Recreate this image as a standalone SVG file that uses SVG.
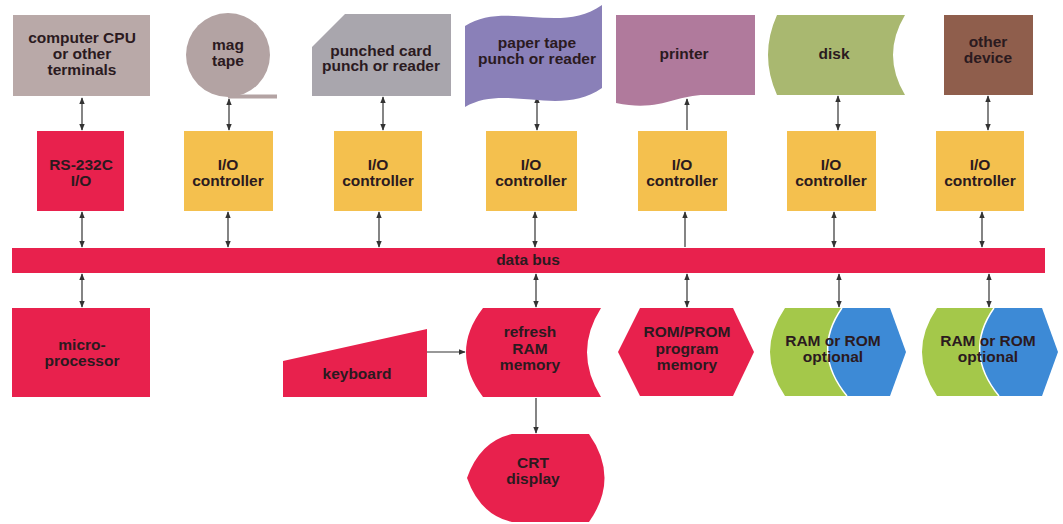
<svg xmlns="http://www.w3.org/2000/svg" width="1063" height="524" viewBox="0 0 1063 524">
<style>
text{font-family:"Liberation Sans",Arial,sans-serif;font-weight:bold;font-size:15.5px;fill:#2b1a1f;text-anchor:middle}
.red{fill:#e8214d}
.yel{fill:#f4c04e}
.con line{stroke:#333;stroke-width:1.2}
</style>
<defs>
<marker id="ah" viewBox="0 0 10 10" refX="9" refY="5" markerWidth="7" markerHeight="7" orient="auto-start-reverse" markerUnits="userSpaceOnUse">
<path d="M0,1 L10,5 L0,9 Z" fill="#333"/>
</marker>
</defs>
<rect width="1063" height="524" fill="#ffffff"/>

<g class="con">
<line x1="82" y1="98" x2="82" y2="130" marker-start="url(#ah)" marker-end="url(#ah)"/>
<line x1="82" y1="212" x2="82" y2="247" marker-start="url(#ah)" marker-end="url(#ah)"/>
<line x1="82" y1="274" x2="82" y2="307" marker-start="url(#ah)" marker-end="url(#ah)"/>
<line x1="229" y1="99" x2="229" y2="130" marker-start="url(#ah)" marker-end="url(#ah)"/>
<line x1="228" y1="212" x2="228" y2="247" marker-start="url(#ah)" marker-end="url(#ah)"/>
<line x1="383" y1="97" x2="383" y2="130" marker-start="url(#ah)" marker-end="url(#ah)"/>
<line x1="379" y1="212" x2="379" y2="247" marker-start="url(#ah)" marker-end="url(#ah)"/>
<line x1="537" y1="97" x2="537" y2="130" marker-start="url(#ah)" marker-end="url(#ah)"/>
<line x1="535" y1="212" x2="535" y2="247" marker-start="url(#ah)" marker-end="url(#ah)"/>
<line x1="536" y1="274" x2="536" y2="307" marker-start="url(#ah)" marker-end="url(#ah)"/>
<line x1="536" y1="398" x2="536" y2="433" marker-end="url(#ah)"/>
<line x1="427" y1="352" x2="465" y2="352" marker-end="url(#ah)"/>
<line x1="687" y1="130" x2="687" y2="99" marker-end="url(#ah)"/>
<line x1="685" y1="247" x2="685" y2="212" marker-end="url(#ah)"/>
<line x1="687" y1="274" x2="687" y2="307" marker-start="url(#ah)" marker-end="url(#ah)"/>
<line x1="838" y1="96" x2="838" y2="130" marker-start="url(#ah)" marker-end="url(#ah)"/>
<line x1="834" y1="212" x2="834" y2="247" marker-start="url(#ah)" marker-end="url(#ah)"/>
<line x1="839" y1="274" x2="839" y2="307" marker-start="url(#ah)" marker-end="url(#ah)"/>
<line x1="988" y1="96" x2="988" y2="130" marker-start="url(#ah)" marker-end="url(#ah)"/>
<line x1="982" y1="212" x2="982" y2="247" marker-start="url(#ah)" marker-end="url(#ah)"/>
<line x1="989" y1="274" x2="989" y2="307" marker-start="url(#ah)" marker-end="url(#ah)"/>
</g>

<g id="cpu">
<rect x="13" y="15" width="137" height="81" fill="#b9a9a8"/>
<text x="82" y="43">computer CPU</text>
<text x="82" y="59">or other</text>
<text x="82" y="75">terminals</text>
</g>
<g id="magtape">
<circle cx="228" cy="55" r="42" fill="#b3a3a3"/>
<rect x="228" y="94.5" width="49" height="4" fill="#b3a3a3"/>
<text x="228" y="50">mag</text>
<text x="228" y="66">tape</text>
</g>
<g id="punchcard">
<path d="M345,14 H451 V96 H312 V47 Z" fill="#a9a6ad"/>
<text x="381" y="56">punched card</text>
<text x="381" y="71">punch or reader</text>
</g>
<g id="papertape">
<path d="M465,26 C505,0 560,35 602,5 V88 C560,118 505,83 465,107 Z" fill="#8a80b8"/>
<text x="537" y="48">paper tape</text>
<text x="537" y="64">punch or reader</text>
</g>
<g id="printer">
<path d="M616,15 H755 V95 H705 C675,95 660,112 616,103 Z" fill="#b07a9c"/>
<text x="684" y="59">printer</text>
</g>
<g id="disk">
<path d="M777,15 H905 Q881,55 905,95 H777 Q759,55 777,15 Z" fill="#a9b870"/>
<text x="834" y="59">disk</text>
</g>
<g id="other">
<rect x="944" y="15" width="89" height="80" fill="#8f5e4c"/>
<text x="988" y="47">other</text>
<text x="988" y="63">device</text>
</g>

<g id="rs232">
<rect class="red" x="37" y="131" width="87" height="80"/>
<text x="81" y="170">RS-232C</text>
<text x="81" y="186">I/O</text>
</g>
<g id="ioc1">
<rect class="yel" x="184" y="131" width="89" height="80"/>
<text x="228" y="170">I/O</text>
<text x="228" y="186">controller</text>
</g>
<g id="ioc2">
<rect class="yel" x="334" y="131" width="88" height="80"/>
<text x="378" y="170">I/O</text>
<text x="378" y="186">controller</text>
</g>
<g id="ioc3">
<rect class="yel" x="486" y="131" width="91" height="80"/>
<text x="531" y="170">I/O</text>
<text x="531" y="186">controller</text>
</g>
<g id="ioc4">
<rect class="yel" x="638" y="131" width="89" height="80"/>
<text x="682" y="170">I/O</text>
<text x="682" y="186">controller</text>
</g>
<g id="ioc5">
<rect class="yel" x="787" y="131" width="89" height="80"/>
<text x="831" y="170">I/O</text>
<text x="831" y="186">controller</text>
</g>
<g id="ioc6">
<rect class="yel" x="936" y="131" width="88" height="80"/>
<text x="980" y="170">I/O</text>
<text x="980" y="186">controller</text>
</g>

<g id="databus">
<rect class="red" x="12" y="248" width="1033" height="25"/>
<text x="528" y="265">data bus</text>
</g>

<g id="micro">
<rect class="red" x="12" y="308" width="138" height="89"/>
<text x="82" y="350">micro-</text>
<text x="82" y="366">processor</text>
</g>
<g id="keyboard">
<path class="red" d="M283,361 L427,329 V397 H283 Z"/>
<text x="357" y="379">keyboard</text>
</g>
<g id="refresh">
<path class="red" d="M483,308 H601 Q573,352 601,397 H483 Q449,352 483,308 Z"/>
<text x="530" y="337">refresh</text>
<text x="530" y="354">RAM</text>
<text x="530" y="370">memory</text>
</g>
<g id="rom">
<path class="red" d="M640,308 H733 L754,352 L733,396 H640 L618,352 Z"/>
<text x="687" y="337">ROM/PROM</text>
<text x="687" y="354">program</text>
<text x="687" y="370">memory</text>
</g>
<g id="crt">
<path class="red" d="M512,434 H589 Q620,478 589,522 H512 Q480,515 467,478 Q480,441 512,434 Z"/>
<text x="533" y="468">CRT</text>
<text x="533" y="484">display</text>
</g>
<g id="ramrom1">
<path d="M785,308 H842 Q811,352 847,396 H785 Q755,352 785,308 Z" fill="#a4c84a"/>
<path d="M842,308 H890 L906,352 L890,396 H847 Q811,352 842,308 Z" fill="#3d8ad6"/>
<path d="M842,308 Q811,352 847,396" fill="none" stroke="#ffffff" stroke-width="1.5"/>
<text x="833" y="346">RAM or ROM</text>
<text x="833" y="362">optional</text>
</g>
<g id="ramrom2" transform="translate(152,0)">
<path d="M785,308 H842 Q811,352 847,396 H785 Q755,352 785,308 Z" fill="#a4c84a"/>
<path d="M842,308 H890 L906,352 L890,396 H847 Q811,352 842,308 Z" fill="#3d8ad6"/>
<path d="M842,308 Q811,352 847,396" fill="none" stroke="#ffffff" stroke-width="1.5"/>
<text x="836" y="346">RAM or ROM</text>
<text x="836" y="362">optional</text>
</g>
</svg>
